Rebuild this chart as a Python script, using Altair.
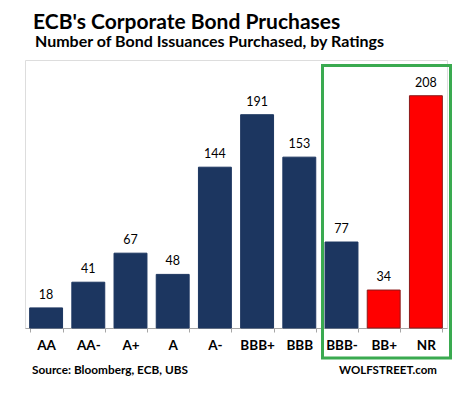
import altair as alt
import pandas as pd

ratings = ["AA", "AA-", "A+", "A", "A-", "BBB+", "BBB", "BBB-", "BB+", "NR"]
counts = [18, 41, 67, 48, 144, 191, 153, 77, 34, 208]
groups = ["rated", "rated", "rated", "rated", "rated", "rated", "rated", "rated", "junk", "junk"]

df = pd.DataFrame({"rating": ratings, "count": counts, "group": groups})

FONT = "Lato"

x = alt.X("rating:N", sort=ratings,
          scale=alt.Scale(paddingInner=0.22, paddingOuter=0.11),
          axis=alt.Axis(title=None, labelAngle=0, labelFont=FONT, labelFontWeight="bold",
                        labelFontSize=13.5, labelColor="#000000", labelPadding=6,
                        domainColor="#a6a6a6", tickColor="#a6a6a6", tickSize=4,
                        tickBand="extent", grid=False))
y = alt.Y("count:Q", scale=alt.Scale(domain=[0, 240], nice=False), axis=None)

base = alt.Chart(df)

bars = base.mark_bar(strokeWidth=1).encode(
    x=x, y=y,
    color=alt.Color("group:N", scale=alt.Scale(domain=["rated", "junk"], range=["#1c3660", "#ff0000"]), legend=None),
    stroke=alt.Stroke("group:N", scale=alt.Scale(domain=["rated", "junk"], range=["#1c3660", "#8b1a1a"]), legend=None),
)

labels = base.mark_text(font=FONT, fontSize=12.5, color="#000000", dy=-9, baseline="alphabetic").encode(
    x=alt.X("rating:N", sort=ratings), y=y, text="count:Q")

annot = pd.DataFrame({"d": [0]})
ann = alt.Chart(annot)

title = ann.mark_text(text="ECB's Corporate Bond Pruchases", font=FONT, fontSize=21, fontWeight="bold",
                      align="left", baseline="alphabetic", color="#000000").encode(
    x=alt.value(8), y=alt.value(-31))
subtitle = ann.mark_text(text="Number of Bond Issuances Purchased, by Ratings", font=FONT, fontSize=16,
                         fontWeight="bold", align="left", baseline="alphabetic", color="#000000").encode(
    x=alt.value(10), y=alt.value(-13))
source = ann.mark_text(text="Source: Bloomberg, ECB, UBS", font=FONT, fontSize=11.8, fontWeight="bold",
                       align="left", baseline="alphabetic", color="#000000").encode(
    x=alt.value(7), y=alt.value(314))
brand = ann.mark_text(text="WOLFSTREET.com", font=FONT, fontSize=11.5, fontWeight="bold",
                      align="right", baseline="alphabetic", color="#000000").encode(
    x=alt.value(412), y=alt.value(314))
box = ann.mark_rect(fill=None, fillOpacity=0, stroke="#3aaa50", strokeWidth=3).encode(
    x=alt.value(297.5), x2=alt.value(425.5), y=alt.value(5.5), y2=alt.value(298))

chart = alt.layer(bars, labels, box, title, subtitle, source, brand).properties(
    width=422, height=268,
    autosize=alt.AutoSizeParams(type="none"),
    padding={"left": 17, "top": 52, "right": 9, "bottom": 60},
).configure_view(stroke=None).configure(background="#ffffff")

chart.save("out.html", embed_options={"renderer": "svg", "actions": False})
